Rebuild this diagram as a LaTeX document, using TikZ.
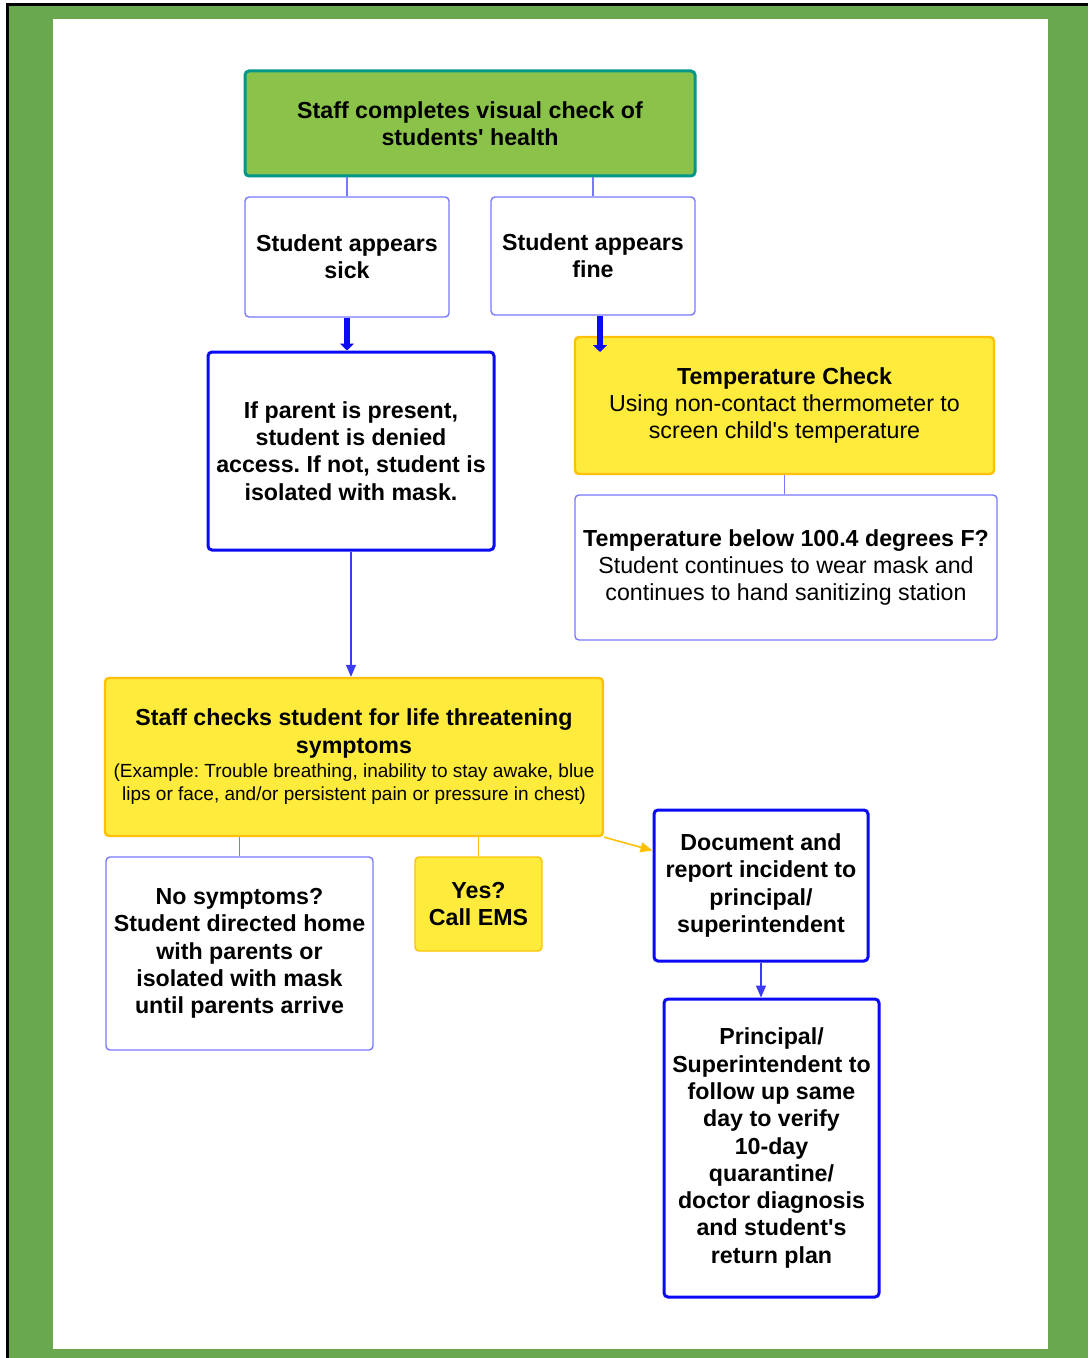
\documentclass[tikz,border=0pt]{standalone}
\usepackage{fontspec}
\setmainfont{Liberation Sans}
\usetikzlibrary{arrows.meta}
\frenchspacing

\definecolor{bggreen}{RGB}{106,168,79}
\definecolor{topgreen}{RGB}{139,195,74}
\definecolor{tealline}{RGB}{0,150,136}
\definecolor{paleblue}{RGB}{120,120,255}
\definecolor{deepblue}{RGB}{10,10,245}
\definecolor{yel}{RGB}{255,235,59}
\definecolor{amber}{RGB}{255,193,7}

\newcommand{\q}{\textquotesingle}

\tikzset{
  box/.style={draw, rounded corners=2pt, align=center, inner sep=0pt,
    font=\bfseries\fontsize{11.6}{13.65}\selectfont},
  thinbox/.style={box, draw=paleblue, line width=0.7pt},
  bluebox/.style={box, draw=deepblue, line width=1.5pt},
  yelbox/.style={box, fill=yel, draw=amber, line width=1.2pt},
  link/.style={paleblue, line width=0.7pt},
  thickarrow/.style={deepblue, line width=3.2pt, -{Triangle[length=3.5pt,width=7pt]}}
}

\begin{document}
\begin{tikzpicture}[x=0.5pt, y=-0.5pt, >={Triangle[length=6pt,width=5pt]}]
\useasboundingbox (0,0) rectangle (1088,1358);
% frame
\fill[bggreen] (9,6) rectangle (1088,1358);
\fill[white] (53,19) rectangle (1048,1349);
\fill[black] (6,3) rectangle (9,1358);
\fill[black] (6,3) rectangle (1088,6);

% boxes
\node[box, fill=topgreen, draw=tealline, line width=1.5pt, minimum width=225pt, minimum height=52.5pt]
  (top) at (470,123.5) {Staff completes visual check of\\students\q{} health};
\node[thinbox, minimum width=102pt, minimum height=60pt] (sick) at (347,257) {Student appears\\sick};
\node[thinbox, minimum width=102pt, minimum height=59pt] (fine) at (593,256) {Student appears\\fine};
\node[bluebox, minimum width=143pt, minimum height=99pt] (parent) at (351,451)
  {If parent is present,\\student is denied\\access. If not, student is\\isolated with mask.};
\node[yelbox, minimum width=209.5pt, minimum height=68.5pt] (temp) at (784.5,405.5)
  {Temperature Check\\\mdseries Using non-contact thermometer to\\\mdseries screen child\q{}s temperature};
\node[thinbox, minimum width=211pt, minimum height=72.5pt] (below) at (786,567.5)
  {Temperature below 100.4 degrees F?\\\mdseries Student continues to wear mask and\\\mdseries continues to hand sanitizing station};
\node[yelbox, minimum width=249pt, minimum height=79pt] (staff) at (354,757)
  {Staff checks student for life threatening\\symptoms\\[-1.5pt]
   \mdseries\fontsize{9.5}{11.5}\selectfont (Example: Trouble breathing, inability to stay awake, blue\\[-2pt]
   \mdseries\fontsize{9.5}{11.5}\selectfont lips or face, and/or persistent pain or pressure in chest)};
\node[thinbox, minimum width=133.5pt, minimum height=96.5pt] (nosym) at (239.5,953.5)
  {No symptoms?\\Student directed home\\with parents or\\isolated with mask\\until parents arrive};
\node[yelbox, line width=0.7pt, minimum width=63.5pt, minimum height=47pt] (yes) at (478.5,904) {Yes?\\Call EMS};
\node[bluebox, minimum width=107pt, minimum height=75.5pt] (doc) at (761,885.5)
  {Document and\\report incident to\\principal/\\superintendent};
\node[bluebox, minimum width=107.5pt, minimum height=149pt] (princ) at (771.5,1148)
  {Principal/\\Superintendent to\\follow up same\\day to verify\\10-day\\quarantine/\\doctor diagnosis\\and student\q{}s\\return plan};

% connectors
\coordinate (tempin) at (600,352);
\draw[link] (sick.north) -- (sick.north |- top.south);
\draw[link] (fine.north) -- (fine.north |- top.south);
\draw[thickarrow] (sick.south) -- (sick.south |- parent.north);
\draw[thickarrow] (fine.south -| tempin) -- (tempin);
\draw[link] (temp.south) -- (temp.south |- below.north);
\draw[link, ->, deepblue!80] (parent.south) -- (parent.south |- staff.north);
\draw[link] (nosym.north) -- (nosym.north |- staff.south);
\draw[amber, line width=0.7pt] (yes.north) -- (yes.north |- staff.south);
\draw[amber, line width=0.8pt, ->] (staff.south east) -- ([yshift=-21pt]doc.north west);
\draw[link, ->, deepblue!80] (doc.south) -- (doc.south |- princ.north);
\end{tikzpicture}
\end{document}
